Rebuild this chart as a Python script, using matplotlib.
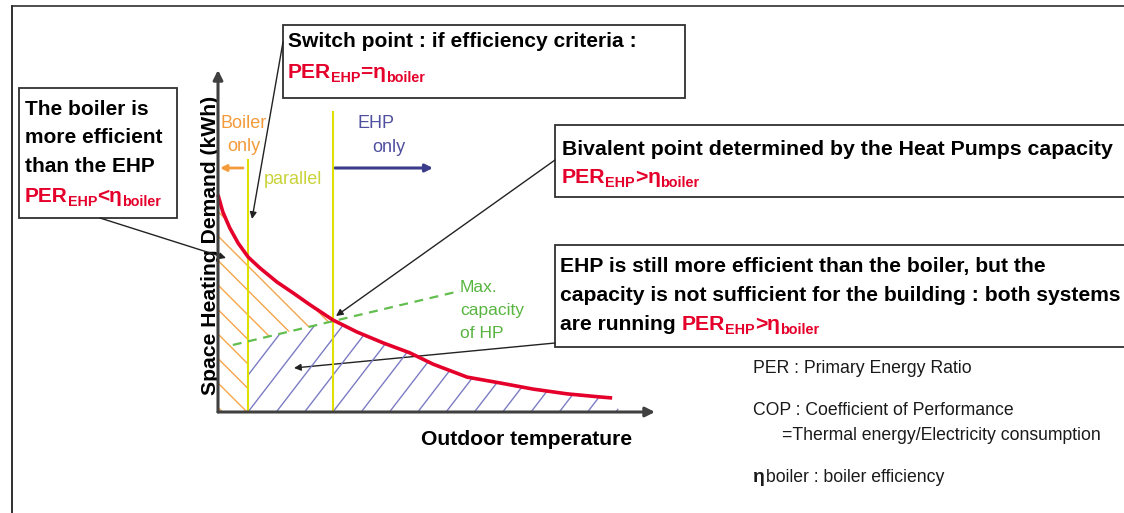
import matplotlib
matplotlib.use('Agg')
import matplotlib.pyplot as plt
from matplotlib.patches import Rectangle, Polygon
from matplotlib import font_manager as fm

# ---------------- data (chart units: x 0..100, y 0..100) ----------------
temp = [0, 1.1, 2.7, 4.6, 6.9, 9.6, 13.5, 17.2, 21.1, 26.3, 31.8, 37.8,
        43.9, 49.2, 57.0, 64.5, 72.1, 79.9, 87.4, 90.2]
demand = [63.5, 58.5, 53.8, 49.4, 45.3, 42.1, 38.0, 34.8, 31.3, 26.9, 23.4,
          20.2, 17.3, 14.0, 10.2, 8.5, 6.7, 5.3, 4.4, 4.1]
hp_temp = [3.4, 55.4]          # max capacity of heat pump (dashed line)
hp_capacity = [19.6, 35.4]
switch_temp = 6.9              # switch point (PER_EHP = eta_boiler)
bivalent_temp = 26.3           # bivalent point
switch_top = 73.7
bivalent_top = 87.7
hatch_end = 92.0

def first_font(names):
    for n in names:
        try:
            fm.findfont(fm.FontProperties(family=n), fallback_to_default=False)
            return n
        except Exception:
            pass
    return 'DejaVu Sans'

BOLD = [first_font(['Liberation Sans', 'Arial']), 'DejaVu Sans']
NARROW = [first_font(['Liberation Sans Narrow', 'Liberation Sans']), 'DejaVu Sans']

RED = '#E5002B'
ORANGE_T = '#F39A3B'
ORANGE_H = '#F5A54A'
BLUE_T = '#5050A0'
BLUE_A = '#3C3C8C'
BLUE_H = '#7C7CC4'
YELLOW = '#E0E000'
PARALLEL = '#C9D33A'
GREEN = '#62BE4E'
GREEN_T = '#58B540'
EDGE = '#303030'

W, H = 1124, 513
fig = plt.figure(figsize=(W / 100, H / 100), dpi=100)
ov = fig.add_axes([0, 0, 1, 1])
ov.set_xlim(0, W)
ov.set_ylim(H, 0)
ov.axis('off')
ov.set_autoscale_on(False)

X0, X1, Y0, Y1 = 218, 655, 412, 70
ax = fig.add_axes([X0 / W, (H - Y0) / H, (X1 - X0) / W, (Y0 - Y1) / H])
ax.set_xlim(0, 100)
ax.set_ylim(0, 100)
ax.set_autoscale_on(False)
ax.axis('off')
ax.patch.set_alpha(0)

renderer = fig.canvas.get_renderer()

# ---------------- frame ----------------
ov.plot([12, W], [6, 6], color=EDGE, lw=1.2)
ov.plot([12, 12], [6, H], color=EDGE, lw=1.4)

# ---------------- hatched regions ----------------
def hp_line(x):
    return hp_capacity[0] + (x - hp_temp[0]) * (hp_capacity[1] - hp_capacity[0]) / (hp_temp[1] - hp_temp[0])

g_sw = hp_line(switch_temp)
g_bi = hp_line(bivalent_temp)

orange_poly = [(0, 0)] + [(t, d) for t, d in zip(temp, demand) if t <= bivalent_temp] + \
              [(bivalent_temp, g_bi), (switch_temp, g_sw), (switch_temp, 0)]
blue_poly = [(switch_temp, 0), (switch_temp, g_sw), (bivalent_temp, g_bi)] + \
            [(t, d) for t, d in zip(temp, demand) if t > bivalent_temp] + [(hatch_end, 0)]

def hatch(poly, color, slope, x_start, spacing, n0, n1):
    p = Polygon(poly, closed=True, facecolor='none', edgecolor='none', transform=ax.transData)
    ax.add_patch(p)
    for k in range(n0, n1):
        xk = x_start + k * spacing
        ya, yb = 430, 50
        xa = xk + (Y0 - ya) / slope
        xb = xk + (Y0 - yb) / slope
        ln, = ax.plot([xa, xb], [ya, yb], transform=ov.transData, color=color, lw=1.0, zorder=1)
        ln.set_clip_path(p)

hatch(orange_poly, ORANGE_H, -1.0, 247, 24.5, -3, 10)
hatch(blue_poly, BLUE_H, 1.3, 248, 28.3, -3, 16)

# ---------------- lines ----------------
ax.plot([switch_temp, switch_temp], [0, switch_top], color=YELLOW, lw=1.5, zorder=2, clip_on=False)
ax.plot([bivalent_temp, bivalent_temp], [0, bivalent_top], color=YELLOW, lw=1.5, zorder=2, clip_on=False)
ax.plot(hp_temp, hp_capacity, color=GREEN, lw=1.6, ls=(0, (4, 3)), zorder=3, clip_on=False)
ax.plot(temp, demand, color=RED, lw=2.6, zorder=4, clip_on=False, solid_capstyle='butt')

# axes arrows
axis_arrow = dict(arrowstyle='-|>', lw=2.2, color='#404040', mutation_scale=14, shrinkA=0, shrinkB=0)
ax.annotate('', xy=(100, 0), xytext=(0, 0), arrowprops=axis_arrow, annotation_clip=False, zorder=5)
ax.annotate('', xy=(0, 100), xytext=(0, 0), arrowprops=axis_arrow, annotation_clip=False, zorder=5)

# ---------------- text helpers ----------------
def fit(x, y, s, width, family, weight='bold', color='black', ha='left', rotation=0, va='baseline'):
    t = ov.text(x, y, s, fontsize=12, family=family, fontweight=weight, color=color,
                ha=ha, va=va, rotation=rotation)
    bb = t.get_window_extent(renderer)
    w = bb.height if rotation else bb.width
    size = 12 * width / w
    t.set_fontsize(size)
    return size

def txt(x, y, s, size, family, weight='bold', color='black', ha='left'):
    return ov.text(x, y, s, fontsize=size, family=family, fontweight=weight, color=color,
                   ha=ha, va='baseline')

def rich(x, y, pieces, family=BOLD):
    for s, size, color, dy in pieces:
        t = ov.text(x, y + dy, s, fontsize=size, family=family, fontweight='bold',
                    color=color, ha='left', va='baseline')
        x += t.get_window_extent(renderer).width

def per_line(x, y, size, op, prefix=None):
    pieces = []
    if prefix:
        pieces.append((prefix, size, 'black', 0))
    sub = size * 0.68
    pieces += [('PER', size, RED, 0), ('EHP', sub, RED, size * 0.28),
               (op, size, RED, 0), ('η', size, RED, 0), ('boiler', sub, RED, size * 0.28)]
    rich(x, y, pieces)

def box(x0, y0, x1, y1):
    ov.add_patch(Rectangle((x0, y0), x1 - x0, y1 - y0, facecolor='white', edgecolor=EDGE,
                           lw=1.3, zorder=2, clip_on=False))

# ---------------- boxes ----------------
box(19, 88, 177, 218)
s1 = fit(25, 115, 'The boiler is', 122, BOLD)
txt(25, 143, 'more efficient', s1, BOLD)
txt(25, 172, 'than the EHP', s1, BOLD)
per_line(25, 202, s1, '<')

box(283, 25, 685, 98)
s2 = fit(288, 47, 'Switch point : if efficiency criteria :', 347, BOLD)
per_line(288, 78, s2, '=')

box(555, 125, 1140, 197)
s3 = fit(562, 155, 'Bivalent point determined by the Heat Pumps capacity', 546, BOLD)
per_line(562, 183, s3, '>')

box(555, 245, 1140, 347)
s4 = fit(560, 301, 'capacity is not sufficient for the building : both systems', 559, BOLD)
txt(560, 272, 'EHP is still more efficient than the boiler, but the', s4, BOLD)
per_line(560, 330, s4, '>', prefix='are running ')

# ---------------- annotation arrows ----------------
arr = dict(arrowstyle='-|>', lw=1.0, color='#222222', mutation_scale=10, shrinkA=0, shrinkB=0)
for start, tip in [((100, 218), (226, 258)), ((283, 42), (252, 219)),
                   ((555, 160), (336, 316)), ((555, 343), (294, 368))]:
    ov.annotate('', xy=tip, xytext=start, arrowprops=arr, zorder=6)

# ---------------- zone labels ----------------
zs = 13
txt(244, 128, 'Boiler', zs, NARROW, weight='normal', color=ORANGE_T, ha='center')
txt(244, 151, 'only', zs, NARROW, weight='normal', color=ORANGE_T, ha='center')
ov.annotate('', xy=(220, 168), xytext=(243, 168),
            arrowprops=dict(arrowstyle='-|>', lw=2.0, color=ORANGE_T, mutation_scale=9, shrinkA=0, shrinkB=0))
txt(293, 184, 'parallel', zs, NARROW, weight='normal', color=PARALLEL, ha='center')
txt(376, 128, 'EHP', zs, NARROW, weight='normal', color=BLUE_T, ha='center')
txt(389, 152, 'only', zs, NARROW, weight='normal', color=BLUE_T, ha='center')
ov.annotate('', xy=(433, 168), xytext=(335, 168),
            arrowprops=dict(arrowstyle='-|>', lw=2.2, color=BLUE_A, mutation_scale=11, shrinkA=0, shrinkB=0))
gs = 12.5
txt(460, 292, 'Max.', gs, NARROW, weight='normal', color=GREEN_T)
txt(460, 315, 'capacity', gs, NARROW, weight='normal', color=GREEN_T)
txt(460, 338, 'of HP', gs, NARROW, weight='normal', color=GREEN_T)

# ---------------- axis labels ----------------
fit(527, 445, 'Outdoor temperature', 211, BOLD, ha='center')
fit(211, 245, 'Space Heating Demand (kWh)', 298, BOLD, ha='center', va='center', rotation=90)

# ---------------- definitions ----------------
sl = fit(753, 373, 'PER : Primary Energy Ratio', 219, NARROW, weight='normal', color='#1a1a1a')
txt(753, 415, 'COP : Coefficient of Performance', sl, NARROW, weight='normal', color='#1a1a1a')
txt(782, 440, '=Thermal energy/Electricity consumption', sl, NARROW, weight='normal', color='#1a1a1a')
t = ov.text(753, 482, 'η', fontsize=sl * 1.1, family=BOLD, fontweight='bold', color='#1a1a1a', va='baseline')
wx = t.get_window_extent(renderer).width
txt(753 + wx + 1, 482, 'boiler : boiler efficiency', sl, NARROW, weight='normal', color='#1a1a1a')

fig.savefig('out.png', dpi=100)
